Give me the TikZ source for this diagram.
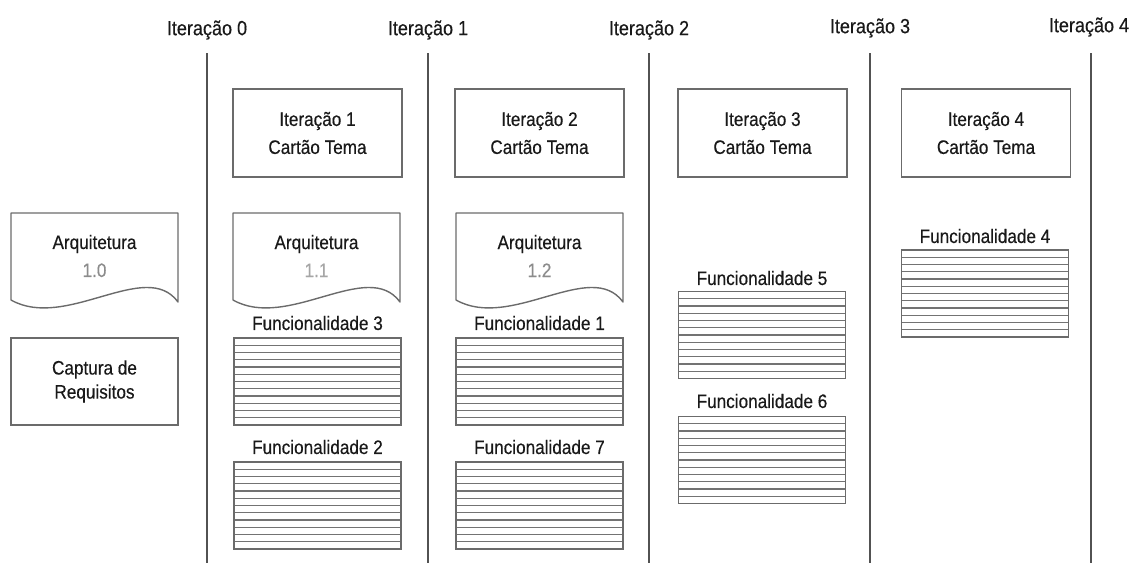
\documentclass[tikz,border=0pt]{standalone}
\usepackage{fontspec}
\setmainfont{Liberation Sans}[FakeStretch=0.88,FakeBold=0.35]
\begin{document}
\begin{tikzpicture}[x=1pt,y=-1pt,
  ink/.style={text=black!90},
  boxline/.style={draw=black!58,line width=1.4pt},
  divider/.style={draw=black!68,line width=2.4pt},
  itertitle/.style={ink,font=\fontsize{20.5}{24}\selectfont},
  cardtext/.style={ink,font=\fontsize{19.5}{28}\selectfont,align=center},
  themecard/.style={boxline,cardtext,minimum width=169pt,minimum height=88pt,inner sep=0pt},
  reqcard/.style={boxline,ink,font=\fontsize{19.5}{24}\selectfont,align=center,
    minimum width=167pt,minimum height=87pt,inner sep=0pt},
  featlabel/.style={ink,font=\fontsize{19.5}{24}\selectfont},
  linedbox/.style={boxline,minimum width=167pt,minimum height=87pt,inner sep=0pt,
    path picture={\foreach \k in {1,...,11}
      \draw[black!55,line width=1.2pt]
        ([yshift=-\k*7.25pt]path picture bounding box.north west) --
        ([yshift=-\k*7.25pt]path picture bounding box.north east);}},
  pics/docshape/.style={code={
    \draw[boxline,line join=round] (0,87) -- (0,0) -- (167,0) -- (167,89)
      .. controls (135,45) and (55,118) .. (0,87);}}
]
\useasboundingbox (0,0) rectangle (1131,563);

% iteration boundaries
\foreach \i/\x/\y in {0/207/30,1/428/30,2/649/30,3/870/28,4/1089/27}{
  \node[itertitle] (title\i) at (\x,\y) {Iteração \i};
}
\foreach \i/\x in {0/207,1/428,2/649,3/870,4/1091}{
  \coordinate (top\i) at (\x,53);
  \coordinate (bot\i) at (\x,563);
  \draw[divider] (top\i) -- (bot\i);
}

% theme cards
\node[themecard] (card1) at (317.5,133) {Iteração 1\\Cartão Tema};
\node[themecard] (card2) at (539.5,133) {Iteração 2\\Cartão Tema};
\node[themecard] (card3) at (762.5,133) {Iteração 3\\Cartão Tema};
\node[themecard] (card4) at (986,133) {Iteração 4\\Cartão Tema};

% architecture documents
\pic at (11,213) {docshape};
\pic at (233,213) {docshape};
\pic at (456,213) {docshape};
\node[cardtext] (arq0) at (94.5,256) {Arquitetura\\[0pt]{\color{black!45}1.0}};
\node[cardtext] (arq1) at (316.5,256) {Arquitetura\\[0pt]{\color{black!35}1.1}};
\node[cardtext] (arq2) at (539.5,256) {Arquitetura\\[0pt]{\color{black!45}1.2}};

% requirements capture
\node[reqcard] (req) at (94.5,381.5) {Captura de\\Requisitos};

% features
\node[featlabel] (lab3) at (317.5,323) {Funcionalidade 3};
\node[linedbox] (feat3) at (317.5,381.5) {};
\node[featlabel] (lab2) at (317.5,447) {Funcionalidade 2};
\node[linedbox] (feat2) at (317.5,505.5) {};

\node[featlabel] (lab1) at (539.5,323) {Funcionalidade 1};
\node[linedbox] (feat1) at (539.5,381.5) {};
\node[featlabel] (lab7) at (539.5,447) {Funcionalidade 7};
\node[linedbox] (feat7) at (539.5,505.5) {};

\node[featlabel] (lab5) at (762,278) {Funcionalidade 5};
\node[linedbox] (feat5) at (762,335) {};
\node[featlabel] (lab6) at (762,401) {Funcionalidade 6};
\node[linedbox] (feat6) at (762,460) {};

\node[featlabel] (lab4) at (985,236) {Funcionalidade 4};
\node[linedbox] (feat4) at (985,293.5) {};
\end{tikzpicture}
\end{document}
